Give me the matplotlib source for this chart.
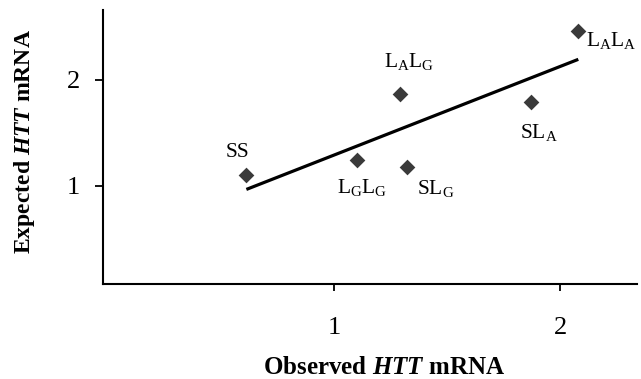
import numpy as np
import matplotlib
matplotlib.use("Agg")
import matplotlib.pyplot as plt

plt.rcParams['font.family'] = ['Liberation Serif', 'DejaVu Serif']
plt.rcParams['mathtext.fontset'] = 'custom'
plt.rcParams['mathtext.rm'] = 'Liberation Serif'
plt.rcParams['mathtext.it'] = 'Liberation Serif:italic'
plt.rcParams['mathtext.bf'] = 'Liberation Serif:bold'
plt.rcParams['mathtext.bfit'] = 'Liberation Serif:italic:bold'

# Data
genotypes = ["SS", "LGLG", "SLG", "LALG", "SLA", "LALA"]
labels = ["SS", r"L$_\mathrm{G}$L$_\mathrm{G}$", r"SL$_\mathrm{G}$",
          r"L$_\mathrm{A}$L$_\mathrm{G}$", r"SL$_\mathrm{A}$", r"L$_\mathrm{A}$L$_\mathrm{A}$"]
observed = [0.61, 1.10, 1.32, 1.29, 1.87, 2.08]
expected = [1.10, 1.24, 1.18, 1.87, 1.79, 2.46]
xticks = [1, 2]
yticks = [1, 2]

# label placement (pixels offset, alignment)
offsets = [(-9, 18, 'center'), (5, -33, 'center'), (29, -27, 'center'),
           (9, 27, 'center'), (8, -36, 'center'), (8, -15, 'left')]

fig = plt.figure(figsize=(6.41, 3.79), dpi=100)
ax = fig.add_axes([103/641, 1-284/379, 534/641, 274/379])

ax.scatter(observed, expected, marker='D', s=8.0**2, color='#3a3a3a', zorder=3, linewidths=0)

coef = np.polyfit(observed, expected, 1)
xs = np.array([min(observed), max(observed)])
ax.plot(xs, np.polyval(coef, xs), color='black', lw=2.3, solid_capstyle='butt', zorder=2)

for x, y, lab, (dx, dy, ha) in zip(observed, expected, labels, offsets):
    ax.annotate(lab, (x, y), xytext=(dx, dy), textcoords='offset pixels',
                ha=ha, va='baseline', fontsize=15.5)

ax.set_xlim(-0.025, 2.34)
ax.set_ylim(0.07, 2.66)
ax.set_xticks(xticks)
ax.set_yticks(yticks)
ax.set_xticklabels([str(t) for t in xticks])
ax.set_yticklabels([str(t) for t in yticks])

for s in ['top', 'right']:
    ax.spines[s].set_visible(False)
for s in ['left', 'bottom']:
    ax.spines[s].set_linewidth(1.5)

ax.tick_params(axis='y', direction='out', length=6, width=1.3, pad=10.5, labelsize=19)
ax.tick_params(axis='x', direction='out', length=5, width=1.3, pad=19, labelsize=19)

ax.set_xlabel(r'Observed $\mathbfit{HTT}$ mRNA', fontsize=18, fontweight='bold')
ax.set_ylabel(r'Expected $\mathbfit{HTT}$ mRNA', fontsize=17, fontweight='bold')
ax.xaxis.set_label_coords((384-103)/534, (284-356)/274)
ax.yaxis.set_label_coords((37-103)/534, (284-142)/274)

fig.savefig('out.png', dpi=100)
